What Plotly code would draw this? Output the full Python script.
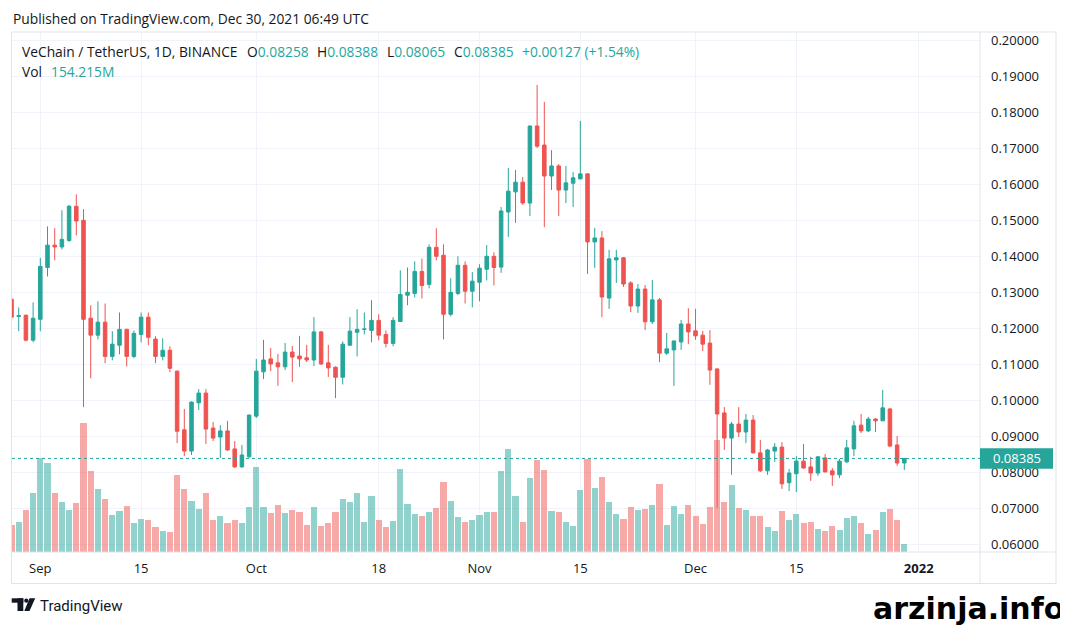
import pandas as pd
import plotly.graph_objects as go

# daily candles VET/USDT, Aug 28 - Dec 30 2021
dates = pd.date_range("2021-08-28", "2021-12-30", freq="D")

opens = [
    0.1281, 0.1233, 0.1236, 0.1167,  # Aug 28-31
    0.1225, 0.1369, 0.1431, 0.1426, 0.1444, 0.1539, 0.1500, 0.1228, 0.1181, 0.1217,
    0.1122, 0.1153, 0.1197, 0.1122, 0.1183, 0.1231, 0.1170, 0.1122, 0.1139, 0.1081,
    0.0918, 0.0859, 0.0993, 0.1020, 0.0923, 0.0898, 0.0915, 0.0865, 0.0815, 0.0843,
    0.0956, 0.1079, 0.1115, 0.1104, 0.1093, 0.1134, 0.1123, 0.1118, 0.1112, 0.1190,
    0.1104, 0.1092, 0.1064, 0.1153, 0.1189, 0.1197, 0.1194, 0.1222, 0.1183, 0.1158,
    0.1219, 0.1292, 0.1297, 0.1358, 0.1322, 0.1425, 0.1403, 0.1239, 0.1297, 0.1375,
    0.1303,
    0.1328, 0.1364, 0.1400, 0.1370, 0.1523, 0.1579, 0.1606, 0.1548, 0.1762, 0.1709,
    0.1623, 0.1651, 0.1584, 0.1603, 0.1615, 0.1629, 0.1440, 0.1451, 0.1284, 0.1390,
    0.1396, 0.1326, 0.1262, 0.1309, 0.1218, 0.1279, 0.1131, 0.1140, 0.1162, 0.1212,
    0.1193, 0.1181, 0.1159, 0.1087, 0.0965, 0.0895, 0.0934, 0.0912, 0.0945, 0.0854,
    0.0804, 0.0859, 0.0870, 0.0771, 0.0796, 0.0831, 0.0815, 0.0798, 0.0840, 0.0804,
    0.0793, 0.0829, 0.0865, 0.0931, 0.0915, 0.0948, 0.0943, 0.0976, 0.0876, 0.08258,
]
highs = [
    0.1290, 0.1258, 0.1239, 0.1272,
    0.1396, 0.1483, 0.1478, 0.1528, 0.1543, 0.1572, 0.1531, 0.1264, 0.1275, 0.1269,
    0.1192, 0.1244, 0.1199, 0.1194, 0.1244, 0.1244, 0.1178, 0.1172, 0.1150, 0.1083,
    0.0976, 0.0997, 0.1031, 0.1031, 0.0940, 0.0931, 0.0943, 0.0887, 0.0876, 0.0960,
    0.1115, 0.1168, 0.1145, 0.1129, 0.1159, 0.1151, 0.1179, 0.1154, 0.1231, 0.1193,
    0.1154, 0.1094, 0.1164, 0.1231, 0.1253, 0.1244, 0.1278, 0.1239, 0.1194, 0.1231,
    0.1361, 0.1369, 0.1386, 0.1394, 0.1433, 0.1478, 0.1433, 0.1339, 0.1400, 0.1386,
    0.1356,
    0.1378, 0.1431, 0.1411, 0.1537, 0.1645, 0.1640, 0.1620, 0.1763, 0.1876, 0.1829,
    0.1695, 0.1656, 0.1651, 0.1634, 0.1776, 0.1631, 0.1479, 0.1470, 0.1418, 0.1418,
    0.1398, 0.1331, 0.1323, 0.1320, 0.1334, 0.1284, 0.1187, 0.1165, 0.1223, 0.1256,
    0.1254, 0.1193, 0.1195, 0.1090, 0.0981, 0.0940, 0.0981, 0.0962, 0.0959, 0.0890,
    0.0865, 0.0881, 0.0884, 0.0809, 0.0845, 0.0879, 0.0843, 0.0845, 0.0851, 0.0812,
    0.0837, 0.0890, 0.0943, 0.0962, 0.0954, 0.0951, 0.1029, 0.0979, 0.0901, 0.08388,
]
lows = [
    0.1225, 0.1192, 0.1164, 0.1161,
    0.1192, 0.1344, 0.1389, 0.1419, 0.1440, 0.1458, 0.0981, 0.1061, 0.1169, 0.1103,
    0.1111, 0.1128, 0.1094, 0.1117, 0.1161, 0.1153, 0.1103, 0.1111, 0.1078, 0.0881,
    0.0845, 0.0848, 0.0973, 0.0879, 0.0887, 0.0840, 0.0860, 0.0813, 0.0813, 0.0840,
    0.0951, 0.1059, 0.1081, 0.1040, 0.1084, 0.1051, 0.1093, 0.1106, 0.1095, 0.1098,
    0.1065, 0.1006, 0.1044, 0.1153, 0.1122, 0.1183, 0.1161, 0.1167, 0.1147, 0.1150,
    0.1219, 0.1264, 0.1286, 0.1283, 0.1311, 0.1389, 0.1169, 0.1233, 0.1292, 0.1269,
    0.1258,
    0.1275, 0.1333, 0.1319, 0.1354, 0.1454, 0.1493, 0.1543, 0.1512, 0.1701, 0.1481,
    0.1584, 0.1512, 0.1548, 0.1537, 0.1615, 0.1351, 0.1368, 0.1231, 0.1254, 0.1326,
    0.1315, 0.1245, 0.1243, 0.1195, 0.1212, 0.1106, 0.1126, 0.1040, 0.1140, 0.1156,
    0.1168, 0.1137, 0.1043, 0.0701, 0.0862, 0.0793, 0.0898, 0.0881, 0.0852, 0.0801,
    0.0793, 0.0829, 0.0754, 0.0748, 0.0745, 0.0810, 0.0776, 0.0790, 0.0800, 0.0762,
    0.0784, 0.0826, 0.0845, 0.0909, 0.0912, 0.0912, 0.0942, 0.0870, 0.0818, 0.08065,
]
closes = [
    0.1231, 0.1235, 0.1167, 0.1228,
    0.1372, 0.1431, 0.1426, 0.1447, 0.1539, 0.1498, 0.1225, 0.1181, 0.1217, 0.1122,
    0.1156, 0.1197, 0.1122, 0.1186, 0.1231, 0.1175, 0.1122, 0.1139, 0.1089, 0.0914,
    0.0859, 0.0995, 0.1020, 0.0920, 0.0895, 0.0915, 0.0862, 0.0815, 0.0848, 0.0959,
    0.1081, 0.1112, 0.1101, 0.1093, 0.1134, 0.1120, 0.1115, 0.1112, 0.1190, 0.1101,
    0.1090, 0.1064, 0.1156, 0.1192, 0.1197, 0.1198, 0.1222, 0.1181, 0.1158, 0.1222,
    0.1294, 0.1300, 0.1358, 0.1319, 0.1425, 0.1400, 0.1239, 0.1300, 0.1375, 0.1303,
    0.1331,
    0.1367, 0.1400, 0.1369, 0.1526, 0.1581, 0.1606, 0.1548, 0.1762, 0.1706, 0.1623,
    0.1651, 0.1584, 0.1604, 0.1618, 0.1629, 0.1440, 0.1451, 0.1287, 0.1393, 0.1396,
    0.1323, 0.1262, 0.1309, 0.1218, 0.1279, 0.1131, 0.1143, 0.1165, 0.1212, 0.1190,
    0.1179, 0.1156, 0.1084, 0.0962, 0.0895, 0.0934, 0.0912, 0.0945, 0.0854, 0.0804,
    0.0862, 0.0870, 0.0768, 0.0798, 0.0831, 0.0812, 0.0798, 0.0843, 0.0801, 0.0793,
    0.0831, 0.0868, 0.0929, 0.0915, 0.0948, 0.0943, 0.0979, 0.0873, 0.08258, 0.08385,
]
# volume in millions of VET
volumes = [
    521, 579, 811, 1139,
    1814, 1718, 1139, 965, 811, 946, 2490, 1563, 1216, 1023,
    714, 791, 888, 560, 637, 618, 483, 405, 386, 1486,
    1216, 984, 830, 1139, 618, 695, 560, 618, 560, 869,
    1641, 869, 753, 907, 753, 811, 772, 521, 869, 502,
    560, 772, 1023, 965, 1139, 579, 1081, 618, 483, 598,
    1602, 926, 733, 695, 772, 849, 1351, 984, 676, 579,
    618,
    714, 772, 772, 1563, 1988, 1081, 579, 1428, 1776, 1583,
    791, 772, 579, 502, 1197, 1795, 1235, 1448, 965, 733,
    637, 869, 811, 830, 907, 1312, 521, 888, 733, 907,
    695, 540, 869, 2162, 965, 1293, 849, 811, 695, 695,
    483, 405, 791, 618, 733, 560, 579, 444, 405, 502,
    425, 656, 695, 560, 347, 425, 772, 830, 618, 154.215,
]

tick_dates = ["2021-09-01", "2021-09-15", "2021-10-01", "2021-10-18", "2021-11-01",
              "2021-11-15", "2021-12-01", "2021-12-15", "2022-01-01"]
tick_names = ["Sep", "15", "Oct", "18", "Nov", "15", "Dec", "15", "<b>2022</b>"]
price_ticks = [0.06, 0.07, 0.08, 0.09, 0.10, 0.11, 0.12, 0.13, 0.14, 0.15, 0.16, 0.17, 0.18, 0.19, 0.20]
last_price = 0.08385

UP, DOWN = "#26a69a", "#ef5350"
TXT = "#131722"
FRAME = "#e0e3eb"
GRID = "#f0f3fa"
FONT = "Open Sans"

# page offset of 8px (body margin) is taken off the figure size
W, H = 1060, 618
# plot area in page pixels: x 12..980, y 32..552
PL, PT, PR, PB = 12, 32, 980, 552
pw, ph = PR - PL, PB - PT


def px(x):
    return (x - PL) / pw


def py(y):
    return (PB - y) / ph


vol_colors = ["rgba(38,166,154,0.5)" if c >= o else "rgba(239,83,80,0.5)"
              for o, c in zip(opens, closes)]

fig = go.Figure()
fig.add_trace(go.Bar(x=dates, y=volumes, marker_color=vol_colors, marker_line_width=0,
                     width=0.84 * 86400000, yaxis="y", hoverinfo="skip"))
fig.add_trace(go.Candlestick(
    x=dates, open=opens, high=highs, low=lows, close=closes, yaxis="y2",
    increasing=dict(line=dict(color=UP, width=1), fillcolor=UP),
    decreasing=dict(line=dict(color=DOWN, width=1), fillcolor=DOWN),
    whiskerwidth=0, hoverinfo="skip"))

fig.update_layout(
    width=W, height=H, margin=dict(l=PL - 8, r=W - (PR - 8), t=PT - 8, b=H - (PB - 8)),
    paper_bgcolor="white", plot_bgcolor="white", showlegend=False,
    font=dict(family=FONT, size=13, color=TXT), boxgap=0.3, bargap=0,
    hovermode=False,
    xaxis=dict(type="date", range=["2021-08-28 01:39", "2022-01-09 12:15"],
               rangeslider=dict(visible=False), tickvals=tick_dates, ticktext=tick_names,
               showgrid=True, gridcolor=GRID, gridwidth=1, zeroline=False, showline=False,
               ticks="", ticklabelstandoff=7, tickfont=dict(size=13, color=TXT)),
    yaxis=dict(range=[0, 10036], visible=False, showgrid=False, zeroline=False),
    yaxis2=dict(overlaying="y", side="right", range=[0.05786, 0.20231],
                tickvals=price_ticks, ticktext=[f"{v:.5f}" for v in price_ticks],
                showgrid=True, gridcolor=GRID, gridwidth=1, zeroline=False, showline=False,
                ticks="", ticklabelstandoff=10, tickfont=dict(size=13, color=TXT)),
)

# chart frame and axis separators
fig.add_shape(type="rect", xref="paper", yref="paper", x0=px(11.5), x1=px(1056),
              y0=py(583.5), y1=py(32), line=dict(color=FRAME, width=1))
fig.add_shape(type="line", xref="paper", yref="paper", x0=1, x1=1, y0=py(583.5), y1=1,
              line=dict(color=FRAME, width=1))
fig.add_shape(type="line", xref="paper", yref="paper", x0=0, x1=px(1056), y0=0, y1=0,
              line=dict(color=FRAME, width=1))

# last price line and label
fig.add_shape(type="line", xref="paper", yref="y2", x0=0, x1=1, y0=last_price, y1=last_price,
              line=dict(color=UP, width=1, dash="dot"))
fig.add_shape(type="rect", xref="paper", yref="y2", x0=1, x1=px(1053),
              y0=last_price - 0.00286, y1=last_price + 0.00286,
              fillcolor=UP, line=dict(width=0), layer="above")
fig.add_annotation(xref="paper", yref="y2", x=px(1016.5), y=last_price, text=f"{last_price:.5f}",
                   showarrow=False, xanchor="center", font=dict(size=13, color="white"))


def note(x, y, text, size=13.8, color=TXT, family=FONT, anchor="left"):
    fig.add_annotation(xref="paper", yref="paper", x=px(x), y=py(y), text=text,
                       showarrow=False, xanchor=anchor, yanchor="middle", borderpad=0,
                       font=dict(size=size, color=color, family=family))


def teal(s):
    return f'<span style="color:{UP}">{s}</span>'


note(11.5, 18, "Published on TradingView.com, Dec 30, 2021 06:49 UTC")
note(21, 51.5, "VeChain / TetherUS, 1D, BINANCE")
note(245.5, 51.5, "O" + teal("0.08258"))
note(315.5, 51.5, "H" + teal("0.08388"))
note(385.5, 51.5, "L" + teal("0.08065"))
note(452.5, 51.5, "C" + teal("0.08385"))
note(520.5, 51.5, teal("+0.00127 (+1.54%)"))
note(21, 72, "Vol")
note(49.5, 72, teal("154.215M"))

# TradingView logo
fig.add_shape(type="rect", xref="paper", yref="paper", x0=px(11.7), x1=px(23.3),
              y0=py(602.7), y1=py(598.3), fillcolor=TXT, line=dict(width=0))
fig.add_shape(type="rect", xref="paper", yref="paper", x0=px(17.5), x1=px(23.3),
              y0=py(611), y1=py(598.3), fillcolor=TXT, line=dict(width=0))
fig.add_shape(type="circle", xref="paper", yref="paper", x0=px(24.2), x1=px(28.4),
              y0=py(602.8), y1=py(598.6), fillcolor=TXT, line=dict(width=0))
fig.add_shape(type="path", xref="paper", yref="paper",
              path=f"M {px(29.5)} {py(598.3)} L {px(35.2)} {py(598.3)} L {px(29.5)} {py(611)} "
                   f"L {px(24.3)} {py(611)} Z",
              fillcolor=TXT, line=dict(width=0))
note(38.5, 605.5, "TradingView", size=15, color=TXT, family="Roboto")

# watermark
note(1065, 608, "<b>arzinja.info</b>", size=30, color="black", family="DejaVu Sans", anchor="right")

fig.write_html("out.html")
